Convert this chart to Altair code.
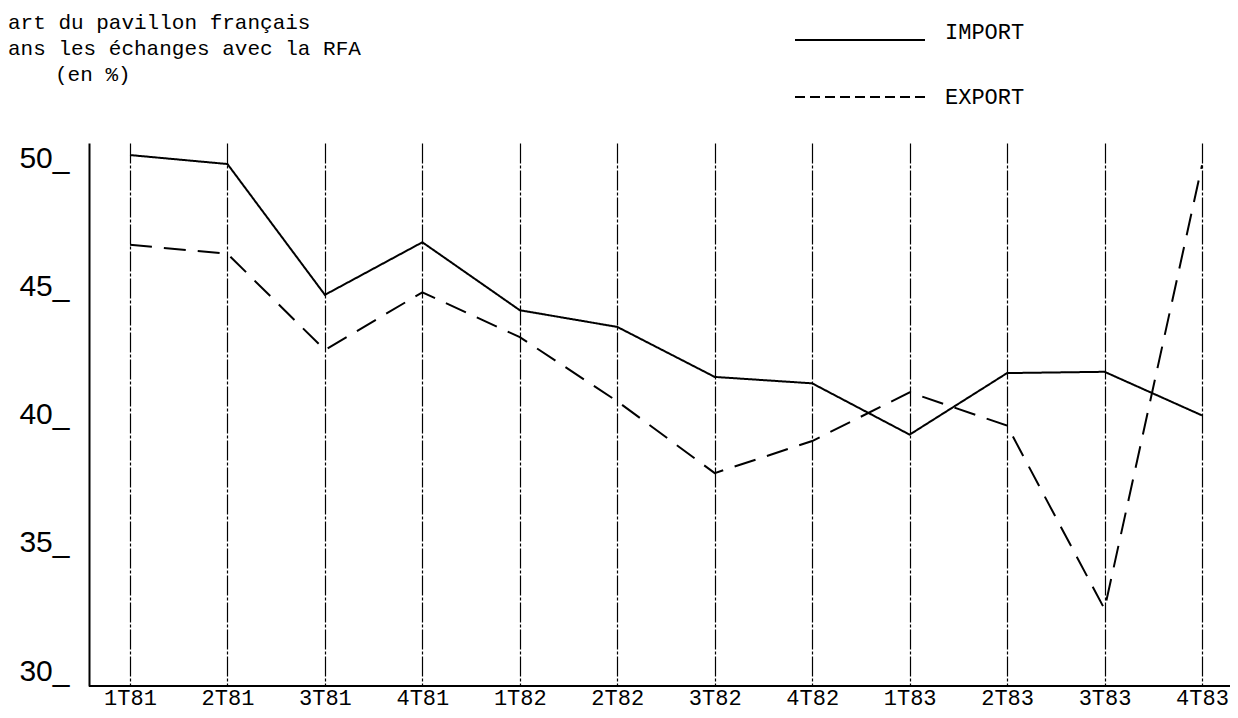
import altair as alt
import pandas as pd

QUARTERS = ["1T81", "2T81", "3T81", "4T81", "1T82", "2T82", "3T82", "4T82",
            "1T83", "2T83", "3T83", "4T83"]
IMPORT = [50.7, 50.35, 45.25, 47.3, 44.65, 44.0, 42.05, 41.8, 39.8, 42.2, 42.25, 40.55]
EXPORT = [47.2, 46.85, 43.1, 45.35, 43.6, 41.1, 38.3, 39.55, 41.45, 40.15, 33.0, 50.3]
Y_TICKS = [30, 35, 40, 45, 50]
SERIES = ["IMPORT", "EXPORT"]
TITLE_LINES = ["art du pavillon français", "ans les échanges avec la RFA", "(en %)"]

W, H = 1141, 543
MONO = "Liberation Mono"

rows = []
for q, a, b in zip(QUARTERS, IMPORT, EXPORT):
    rows.append({"quarter": q, "value": a, "series": SERIES[0]})
    rows.append({"quarter": q, "value": b, "series": SERIES[1]})
df = pd.DataFrame(rows)

lines = alt.Chart(df).mark_line(color="black", strokeWidth=2).encode(
    x=alt.X(
        "quarter:N",
        sort=QUARTERS,
        scale=alt.Scale(type="point", domain=QUARTERS, range=[41, 1113], padding=0),
        axis=alt.Axis(
            title=None, labelAngle=0, labelFont=MONO, labelFontSize=22,
            labelColor="black", ticks=False, labelPadding=1, domain=False,
            grid=True, gridColor="black", gridDash=[20, 2, 3, 2],
            gridWidth=1.2, gridOpacity=1,
        ),
    ),
    y=alt.Y(
        "value:Q",
        scale=alt.Scale(domain=[30, 51.17], nice=False, zero=False),
        axis=alt.Axis(
            values=Y_TICKS, title=None, ticks=False, grid=False,
            labelExpr="datum.label + '_'", labelFont="Liberation Sans",
            labelFontSize=30, labelColor="black", labelPadding=20,
            labelBaseline="alphabetic", labelOffset=-6,
            domainColor="black", domainWidth=2,
        ),
    ),
    strokeDash=alt.StrokeDash(
        "series:N",
        scale=alt.Scale(domain=SERIES, range=[[1, 0], [22, 12]]),
        legend=None,
    ),
    detail="series:N",
)

one = pd.DataFrame({"k": [0]})

xaxis_line = alt.Chart(one).mark_rule(color="black", strokeWidth=2).encode(
    x=alt.value(0), x2=alt.value(W), y=alt.value(H)
)

title_layers = []
title_pos = [(-81, -114), (-81, -88), (-34, -62)]
for txt, (tx, ty) in zip(TITLE_LINES, title_pos):
    title_layers.append(
        alt.Chart(one).mark_text(
            text=txt, font=MONO, fontSize=21, color="black",
            align="left", baseline="alphabetic",
        ).encode(x=alt.value(tx), y=alt.value(ty))
    )

leg_solid = alt.Chart(one).mark_rule(color="black", strokeWidth=2).encode(
    x=alt.value(706), x2=alt.value(836), y=alt.value(-103)
)
leg_dash = alt.Chart(one).mark_rule(color="black", strokeWidth=2, strokeDash=[10, 5]).encode(
    x=alt.value(706), x2=alt.value(836), y=alt.value(-46)
)
leg_t1 = alt.Chart(one).mark_text(
    text=SERIES[0], font=MONO, fontSize=22, color="black", align="left", baseline="alphabetic"
).encode(x=alt.value(856), y=alt.value(-104))
leg_t2 = alt.Chart(one).mark_text(
    text=SERIES[1], font=MONO, fontSize=22, color="black", align="left", baseline="alphabetic"
).encode(x=alt.value(856), y=alt.value(-39))

chart = alt.layer(
    lines, xaxis_line, *title_layers, leg_solid, leg_dash, leg_t1, leg_t2
).properties(
    width=W, height=H,
    autosize=alt.AutoSizeParams(type="none"),
    padding={"left": 81, "top": 135, "right": 0, "bottom": 24},
    background="white",
).configure_view(stroke=None)

chart.save("out.html", embed_options={"renderer": "svg", "actions": False})
